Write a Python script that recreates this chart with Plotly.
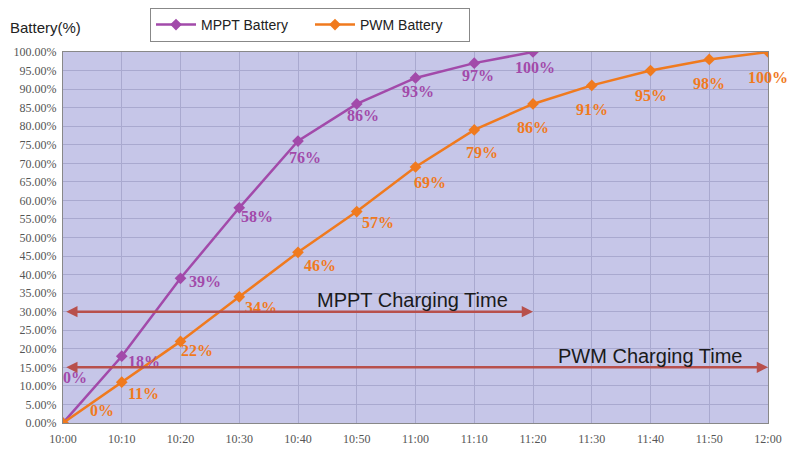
import plotly.graph_objects as go

times = ["10:00", "10:10", "10:20", "10:30", "10:40", "10:50", "11:00",
         "11:10", "11:20", "11:30", "11:40", "11:50", "12:00"]
mppt_values = [0, 18, 39, 58, 76, 86, 93, 97, 100]
pwm_values = [0, 11, 22, 34, 46, 57, 69, 79, 86, 91, 95, 98, 100]
y_ticks = list(range(0, 101, 5))
y_tick_labels = [f"{v}.00%" for v in y_ticks]

mppt_arrow_level = 30
pwm_arrow_level = 15

# label offsets (pixels) - style only
mppt_shift = [(12, 46), (22, -5), (24, -3), (18, -9), (7, -16), (6, -12), (2, -14), (4, -12), (2, -15)]
pwm_shift = [(39, 13), (22, -11), (16, -9), (22, -11), (22, -13), (21, -11), (14, -15), (8, -23),
             (0, -24), (0, -24), (0, -25), (0, -24), (0, -25)]

MPPT_C = "#a24aaa"
PWM_C = "#f07a1e"
ARROW_C = "#b8504c"

W, H = 786, 441
L, R, T, B = 55, 26, 44, 26
PW, PH = W - L - R, H - T - B

fig = go.Figure()
fig.add_trace(go.Scatter(x=times[:len(mppt_values)], y=mppt_values, mode="lines+markers",
                         name="MPPT Battery", line=dict(color=MPPT_C, width=2.5),
                         marker=dict(symbol="diamond", size=9, color=MPPT_C)))
fig.add_trace(go.Scatter(x=times, y=pwm_values, mode="lines+markers",
                         name="PWM Battery", line=dict(color=PWM_C, width=2.5),
                         marker=dict(symbol="diamond", size=9, color=PWM_C)))

ann = []
for i, v in enumerate(mppt_values):
    dx, dy = mppt_shift[i]
    ann.append(dict(x=i, y=v, xref="x", yref="y", text=f"<b>{v}%</b>", showarrow=False,
                    xshift=dx, yshift=dy, font=dict(family="Liberation Serif", size=16, color=MPPT_C)))
for i, v in enumerate(pwm_values):
    dx, dy = pwm_shift[i]
    ann.append(dict(x=i, y=v, xref="x", yref="y", text=f"<b>{v}%</b>", showarrow=False,
                    xshift=dx, yshift=dy, font=dict(family="Liberation Serif", size=16, color=PWM_C)))

# charging time arrows
ann.append(dict(x=len(mppt_values) - 1, y=mppt_arrow_level, ax=0.03, ay=mppt_arrow_level,
                xref="x", yref="y", axref="x", ayref="y", text="", showarrow=True,
                arrowhead=2, arrowside="end+start", arrowsize=0.9, arrowwidth=2.5, arrowcolor=ARROW_C))
ann.append(dict(x=len(pwm_values) - 1, y=pwm_arrow_level, ax=0.03, ay=pwm_arrow_level,
                xref="x", yref="y", axref="x", ayref="y", text="", showarrow=True,
                arrowhead=2, arrowside="end+start", arrowsize=0.9, arrowwidth=2.5, arrowcolor=ARROW_C))
ann.append(dict(x=6, y=mppt_arrow_level, xref="x", yref="y", text="MPPT Charging Time",
                showarrow=False, yshift=12, xshift=-3,
                font=dict(family="Liberation Sans", size=20, color="#1a1a1a")))
ann.append(dict(x=10, y=pwm_arrow_level, xref="x", yref="y", text="PWM Charging Time",
                showarrow=False, yshift=11,
                font=dict(family="Liberation Sans", size=20, color="#1a1a1a")))
ann.append(dict(x=-L / PW, y=1 + 24 / PH, xref="paper", yref="paper", xanchor="left",
                yanchor="middle", text="Battery(%)", showarrow=False,
                font=dict(family="Liberation Sans", size=15, color="#222")))

fig.update_layout(
    width=W, height=H,
    margin=dict(l=L, r=R, t=T, b=B, autoexpand=False),
    paper_bgcolor="white",
    plot_bgcolor="#c6c6e8",
    showlegend=True,
    legend=dict(orientation="h", x=142 / W, y=1 - 17 / H, xref="container", yref="container",
                xanchor="left", yanchor="middle",
                bordercolor="#888", borderwidth=1, bgcolor="white",
                font=dict(family="Liberation Sans", size=14, color="#222"),
                itemwidth=40, entrywidthmode="pixels", entrywidth=104),
    annotations=ann,
)

fig.update_xaxes(type="category", range=[0, 12], showgrid=True, gridcolor="#a9a9cf", gridwidth=1,
                 showline=True, linecolor="#888", mirror=True, ticks="outside", ticklen=5,
                 tickcolor="rgba(0,0,0,0)", zeroline=False, automargin=False,
                 tickfont=dict(family="Liberation Serif", size=12, color="#555"))
fig.update_yaxes(range=[0, 100], tickvals=y_ticks, ticktext=y_tick_labels, showgrid=True,
                 gridcolor="#a9a9cf", gridwidth=1, showline=True, linecolor="#888", mirror=True,
                 zeroline=False, ticks="outside", ticklen=3, tickcolor="rgba(0,0,0,0)",
                 automargin=False,
                 tickfont=dict(family="Liberation Serif", size=12, color="#555"))

fig.write_html("out.html")
